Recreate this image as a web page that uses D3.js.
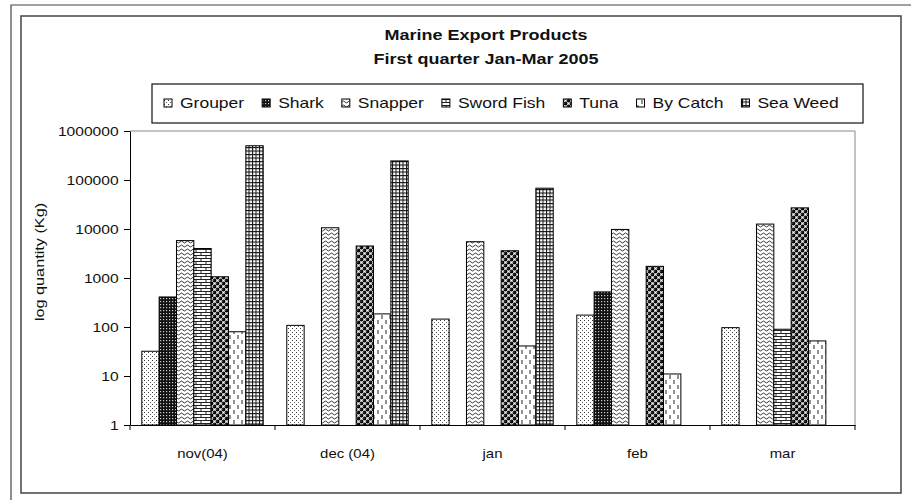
<!DOCTYPE html>
<html>
<head>
<meta charset="utf-8">
<script src="https://cdn.jsdelivr.net/npm/d3@7"></script>
<style>
  body { margin: 0; background: #fff; }
  svg { display: block; font-family: "Liberation Sans", Arial, sans-serif; }
</style>
</head>
<body>
<svg width="911" height="500"></svg>
<script>
var width = 911;
var height = 500;

// data (kg); null = no bar
var months = ['nov(04)', 'dec (04)', 'jan', 'feb', 'mar'];
var products = ['Grouper', 'Shark', 'Snapper', 'Sword Fish', 'Tuna', 'By Catch', 'Sea Weed'];
var grouper   = [32, 108, 145, 175, 97];
var shark     = [410, null, null, 520, null];
var snapper   = [5800, 10600, 5500, 9800, 12600];
var swordFish = [4000, null, null, null, 90];
var tuna      = [1060, 4500, 3600, 1730, 27000];
var byCatch   = [80, 185, 41, 11, 52];
var seaWeed   = [500000, 245000, 68000, null, null];
var yTicks = [1, 10, 100, 1000, 10000, 100000, 1000000];

var seriesValues = [grouper, shark, snapper, swordFish, tuna, byCatch, seaWeed];
var patternIds = ['p-grouper', 'p-shark', 'p-snapper', 'p-sword', 'p-tuna', 'p-bycatch', 'p-weed'];

var svg = d3.select('svg');
var defs = svg.append('defs');

function pattern(id, w, h, bg) {
  var p = defs.append('pattern')
    .attr('id', id)
    .attr('patternUnits', 'userSpaceOnUse')
    .attr('width', w)
    .attr('height', h);
  p.append('rect').attr('width', w).attr('height', h).attr('fill', bg);
  return p;
}

// Grouper: sparse stipple
var pg = pattern('p-grouper', 4, 4, '#fff');
pg.append('rect').attr('x', 0).attr('y', 0).attr('width', 1).attr('height', 1).attr('fill', '#333');
pg.append('rect').attr('x', 2).attr('y', 2).attr('width', 1).attr('height', 1).attr('fill', '#666');

// Shark: dark with fine white dots
var ps = pattern('p-shark', 3, 3, '#111');
ps.append('rect').attr('x', 1).attr('y', 1).attr('width', 1.2).attr('height', 1.2).attr('fill', '#ccc');

// Snapper: horizontal waves
var pn = pattern('p-snapper', 6, 4, '#fff');
pn.append('path').attr('d', 'M0,2 Q1.5,0 3,2 T6,2').attr('fill', 'none').attr('stroke', '#222').attr('stroke-width', 0.9);

// Sword fish: bricks
var pb = pattern('p-sword', 10, 6, '#fff');
pb.append('path').attr('d', 'M0,0.5H10M0,3.5H10M1,0.5V3.5M6,3.5V6.5')
  .attr('fill', 'none').attr('stroke', '#222').attr('stroke-width', 1);

// Tuna: black balls
var pt = pattern('p-tuna', 6, 6, '#fff');
[[1.5, 1.5], [4.5, 4.5], [4.5, -1.5], [-1.5, 4.5], [7.5, 1.5], [1.5, 7.5]].forEach(function(c) {
  pt.append('circle').attr('cx', c[0]).attr('cy', c[1]).attr('r', 1.9).attr('fill', '#000');
});
[[1.5, 1.5], [4.5, 4.5]].forEach(function(c) {
  pt.append('circle').attr('cx', c[0] - 0.6).attr('cy', c[1] - 0.6).attr('r', 0.5).attr('fill', '#bbb');
});

// By catch: vertical dashes
var pd = pattern('p-bycatch', 8, 10, '#fff');
pd.append('path').attr('d', 'M2,0V4M6,5V9').attr('stroke', '#222').attr('stroke-width', 1);

// Sea weed: small grid
var pw = pattern('p-weed', 3.5, 3.5, '#fff');
pw.append('path').attr('d', 'M0,0.5H3.5M0.5,0V3.5').attr('stroke', '#111').attr('stroke-width', 1);

// frames
svg.append('path')
  .attr('d', 'M11,' + height + 'V5H' + width)
  .attr('fill', 'none').attr('stroke', '#444').attr('stroke-width', 1.2);
svg.append('rect')
  .attr('x', 21).attr('y', 16).attr('width', 880).attr('height', 477)
  .attr('fill', '#fff').attr('stroke', '#444').attr('stroke-width', 1.5);

// text stretched sideways, like the original
function label(x, y, str, size, opts) {
  opts = opts || {};
  var t = svg.append('text')
    .attr('transform', 'translate(' + x + ',' + y + ')' + (opts.rotate ? ' rotate(' + opts.rotate + ')' : '') +
      ' scale(' + (opts.sx || 1.25) + ',1)')
    .attr('text-anchor', opts.anchor || 'middle')
    .style('font-size', size + 'px')
    .style('font-weight', opts.bold ? 'bold' : 'normal')
    .attr('fill', '#111')
    .text(str);
  return t;
}

label(486, 40, 'Marine Export Products', 15, {bold: true, sx: 1.2});
label(486, 64, 'First quarter Jan-Mar 2005', 15, {bold: true, sx: 1.2});

var plot = {left: 130, right: 855, top: 131, bottom: 425};

var xScale = d3.scaleBand()
  .domain(months)
  .range([plot.left, plot.right]);

var xInner = d3.scaleBand()
  .domain(products)
  .range([0, xScale.bandwidth()])
  .paddingOuter(0.68);

var yScale = d3.scaleLog()
  .domain([1, 1000000])
  .range([plot.bottom, plot.top]);

// plot frame (top and right)
svg.append('path')
  .attr('d', 'M' + plot.left + ',' + plot.top + 'H' + plot.right + 'V' + plot.bottom)
  .attr('fill', 'none').attr('stroke', '#888').attr('stroke-width', 1);

// bars
var groups = svg.selectAll('.series')
  .data(products)
  .enter().append('g')
  .attr('class', 'series')
  .attr('fill', function(d, i) { return 'url(#' + patternIds[i] + ')'; });

groups.selectAll('rect')
  .data(function(d, i) {
    return months.map(function(m, j) { return {month: m, product: d, value: seriesValues[i][j]}; })
      .filter(function(o) { return o.value != null; });
  })
  .enter().append('rect')
  .attr('x', function(d) { return xScale(d.month) + xInner(d.product); })
  .attr('y', function(d) { return yScale(d.value); })
  .attr('width', xInner.bandwidth())
  .attr('height', function(d) { return yScale(1) - yScale(d.value); })
  .attr('stroke', '#000')
  .attr('stroke-width', 1);

// y axis
var yAxis = svg.append('g')
  .attr('transform', 'translate(' + plot.left + ',0)')
  .call(d3.axisLeft(yScale).tickValues(yTicks).tickFormat(d3.format('d')).tickSize(6).tickSizeOuter(0));
yAxis.select('.domain').attr('stroke', '#000');
yAxis.selectAll('.tick line').attr('stroke', '#000');
yAxis.selectAll('.tick text')
  .attr('x', -9.5)
  .attr('transform', 'scale(1.2,1)')
  .style('font-size', '13px')
  .style('font-family', '"Liberation Sans", Arial, sans-serif')
  .attr('fill', '#111');

// x axis: labels at category centres, ticks at the boundaries
var xAxis = svg.append('g')
  .attr('transform', 'translate(0,' + plot.bottom + ')')
  .call(d3.axisBottom(xScale).tickSize(0).tickSizeOuter(0).tickPadding(24));
xAxis.select('.domain').attr('stroke', '#000');
xAxis.selectAll('.tick text')
  .attr('transform', 'scale(1.15,1)')
  .attr('x', 0)
  .style('font-size', '13px')
  .style('font-family', '"Liberation Sans", Arial, sans-serif')
  .attr('fill', '#111');
xAxis.selectAll('.boundary')
  .data(months.concat(['end']))
  .enter().append('line')
  .attr('class', 'boundary')
  .attr('x1', function(d) { return d === 'end' ? xScale.range()[1] : xScale(d); })
  .attr('x2', function(d) { return d === 'end' ? xScale.range()[1] : xScale(d); })
  .attr('y1', 0).attr('y2', 5)
  .attr('stroke', '#000');

// y axis title
label(44, 262, 'log quantity (Kg)', 13, {rotate: -90});

// legend
svg.append('rect')
  .attr('x', 152).attr('y', 84).attr('width', 711).attr('height', 39)
  .attr('fill', '#fff').attr('stroke', '#111').attr('stroke-width', 1.2);

var lx = 164;
products.forEach(function(p, i) {
  svg.append('rect')
    .attr('x', lx).attr('y', 99).attr('width', 8).attr('height', 8)
    .attr('fill', 'url(#' + patternIds[i] + ')')
    .attr('stroke', '#000').attr('stroke-width', 1);
  var t = label(lx + 16, 108, p, 14, {anchor: 'start', sx: 1.25});
  lx += 16 + t.node().getComputedTextLength() * 1.25 + 18;
});
</script>
</body>
</html>
